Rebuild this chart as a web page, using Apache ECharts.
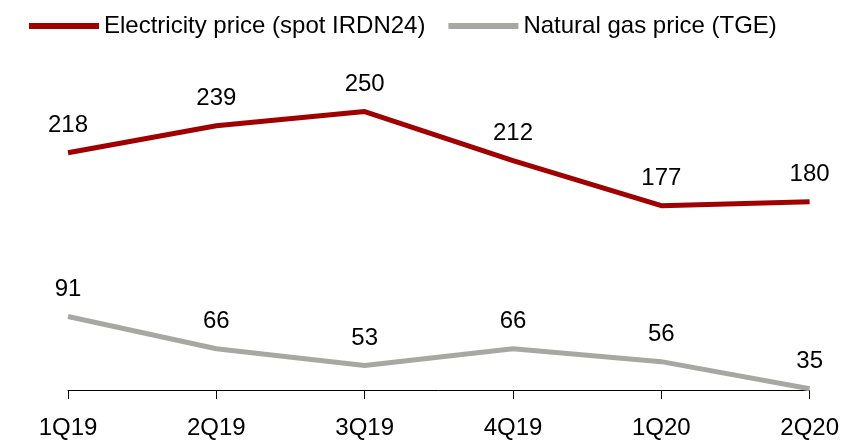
<!DOCTYPE html>
<html>
<head>
<meta charset="utf-8">
<script src="https://cdn.jsdelivr.net/npm/echarts@6/dist/echarts.min.js"></script>
<style>
  html, body { margin: 0; padding: 0; background: #fff; }
  #chart { width: 842px; height: 441px; }
</style>
</head>
<body>
<div id="chart"></div>
<script>
// quarters on the x axis
var quarters = ['1Q19', '2Q19', '3Q19', '4Q19', '1Q20', '2Q20'];
// electricity price, spot IRDN24
var electricity = [218, 239, 250, 212, 177, 180];
// natural gas price, TGE
var gas = [91, 66, 53, 66, 56, 35];

var font = '"Liberation Sans", Arial, sans-serif';

var myChart = echarts.init(document.getElementById('chart'));
var labelStyle = { show: true, position: 'top', distance: 15, fontFamily: font, fontSize: 24, color: '#000' };

myChart.setOption({
    animation: false,
    backgroundColor: '#fff',
    legend: {
        left: 24,
        top: 9,
        icon: 'rect',
        itemWidth: 70,
        itemHeight: 6,
        itemGap: 23,
        textStyle: { fontFamily: font, fontSize: 24, color: '#000' },
        data: ['Electricity price (spot IRDN24)', 'Natural gas price (TGE)']
    },
    grid: { left: 68, right: 30, top: 60, bottom: 51 },
    xAxis: {
        type: 'category',
        boundaryGap: false,
        data: quarters,
        axisLine: { lineStyle: { color: '#000', width: 1 } },
        axisTick: { show: true, length: 9, lineStyle: { color: '#000' } },
        axisLabel: { fontFamily: font, fontSize: 24, color: '#000', margin: 26, interval: 0 }
    },
    yAxis: {
        type: 'value',
        min: 34,
        max: 290,
        show: false,
        splitLine: { show: false }
    },
    series: [
        {
            name: 'Electricity price (spot IRDN24)',
            type: 'line',
            data: electricity,
            color: '#A00000',
            symbol: 'circle',
            symbolSize: 0.1,
            lineStyle: { width: 5, color: '#A00000' },
            label: labelStyle
        },
        {
            name: 'Natural gas price (TGE)',
            type: 'line',
            data: gas,
            color: '#A8A8A3',
            symbol: 'circle',
            symbolSize: 0.1,
            lineStyle: { width: 5, color: '#A8A8A3' },
            label: labelStyle
        }
    ]
});
</script>
</body>
</html>
